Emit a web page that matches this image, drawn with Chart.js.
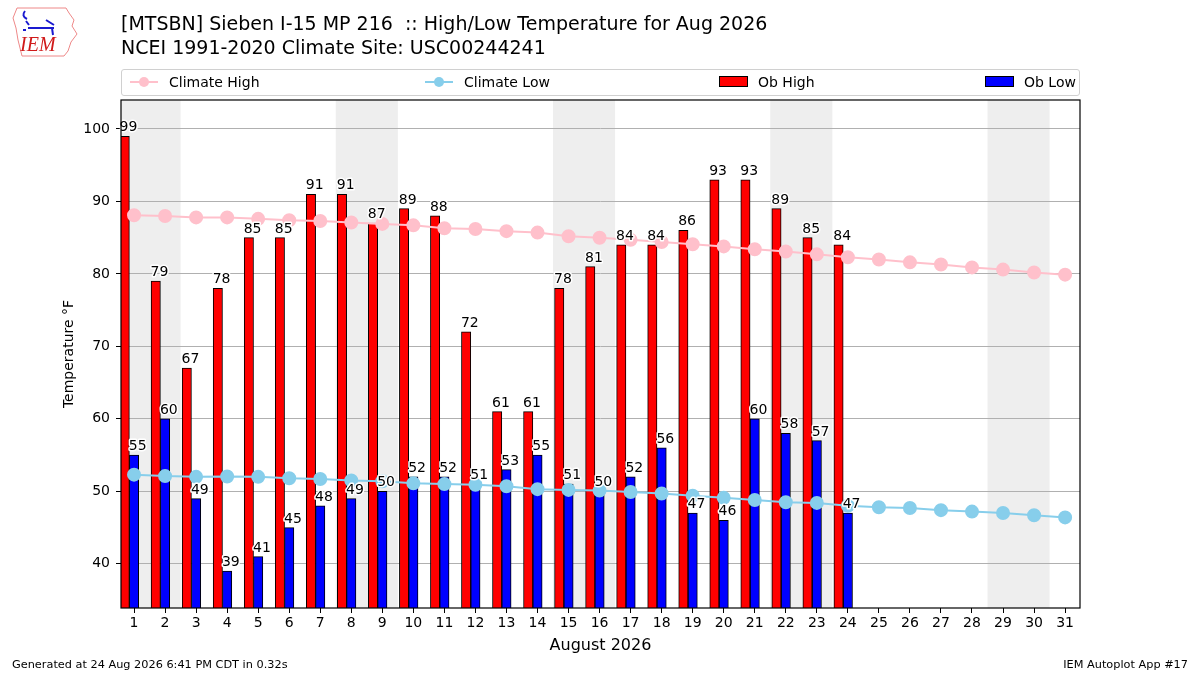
<!DOCTYPE html>
<html>
<head>
<meta charset="utf-8">
<script src="https://cdn.jsdelivr.net/npm/chart.js@4"></script>
<style>
  body { margin: 0; background: #fff; font-family: "DejaVu Sans", sans-serif; }
  #wrap { position: relative; width: 1200px; height: 675px; overflow: hidden; }
  #chart { position: absolute; left: 0; top: 0; }
  .t { position: absolute; white-space: nowrap; color: #000; }
  #legend { position: absolute; left: 121px; top: 69px; width: 957px; height: 25px;
            border: 1px solid #d0d0d0; border-radius: 3px; }
  .li { position: absolute; top: -1px; height: 25px; display: flex; align-items: center; font-size: 14px; }
</style>
</head>
<body>
<div id="wrap">
  <canvas id="chart" width="1200" height="675"></canvas>
  <svg style="position:absolute;left:8px;top:4px" width="74" height="56" viewBox="0 0 74 56">
    <path d="M9 4 L58 4 L61 9 L66 16 L64 22 L69 30 L63 38 L60 47 L56 52 L14 52 L12 44 L10 36 L8 24 L5 14 Z"
          fill="none" stroke="#e88" stroke-width="1"/>
    <path d="M17 7 Q13 12 19 15 M18 17 L21 21 M20 24 L46 24 M38 16 L46 21 M44 24 L45 31 M15 26 L18 26"
          fill="none" stroke="#1a1ad0" stroke-width="2"/>
    <text x="12" y="47" font-family="Liberation Serif, serif" font-style="italic" font-size="20" fill="#d01a1a">IEM</text>
  </svg>
  <div class="t" style="left:121px;top:12px;font-size:19px">[MTSBN] Sieben I-15 MP 216&nbsp; :: High/Low Temperature for Aug 2026</div>
  <div class="t" style="left:121px;top:36px;font-size:19px">NCEI 1991-2020 Climate Site: USC00244241</div>
  <div id="legend"></div>
  <div class="t" style="left:12px;top:658px;font-size:11.3px">Generated at 24 Aug 2026 6:41 PM CDT in 0.32s</div>
  <div class="t" style="right:12px;top:658px;font-size:11.3px">IEM Autoplot App #17</div>
</div>
<script>
const days = Array.from({ length: 31 }, (_, i) => i + 1);
const obDays = days.slice(0, 24);

const climateHigh = [88.1, 88.0, 87.8, 87.8, 87.6, 87.4, 87.3, 87.1, 86.9, 86.7, 86.3, 86.2, 85.9, 85.7, 85.2, 85.0,
  84.7, 84.4, 84.1, 83.8, 83.4, 83.1, 82.7, 82.3, 82.0, 81.6, 81.3, 80.9, 80.6, 80.2, 79.9];
const climateLow = [52.3, 52.1, 52.0, 52.05, 52.0, 51.8, 51.7, 51.5, 51.4, 51.1, 51.0, 50.9, 50.7, 50.3, 50.2, 50.1,
  49.9, 49.7, 49.4, 49.1, 48.8, 48.5, 48.4, 48.0, 47.8, 47.7, 47.4, 47.2, 47.0, 46.7, 46.4];
const obHigh = [99, 79, 67, 78, 85, 85, 91, 91, 87, 89, 88, 72, 61, 61, 78, 81, 84, 84, 86, 93, 93, 89, 85, 84];
const obLow = [55, 60, 49, 39, 41, 45, 48, 49, 50, 52, 52, 51, 53, 55, 51, 50, 52, 56, 47, 46, 60, 58, 57, 47];

const weekendStarts = [1, 8, 15, 22, 29];
const yTicks = [40, 50, 60, 70, 80, 90, 100];

// high bar sits just left of the day, low bar on the day
const highShift = -0.3;
const labelShift = 0.12;

const legendItems = [
  { label: 'Climate High', color: '#ffc0cb', kind: 'line', left: 8 },
  { label: 'Climate Low', color: '#87ceeb', kind: 'line', left: 303 },
  { label: 'Ob High', color: '#ff0000', kind: 'box', left: 597 },
  { label: 'Ob Low', color: '#0000ff', kind: 'box', left: 863 },
];

document.getElementById('legend').innerHTML = legendItems.map(it => {
  const mark = it.kind === 'line'
    ? `<svg width="28" height="12" style="margin-right:11px"><line x1="0" y1="6" x2="28" y2="6" stroke="${it.color}" stroke-width="2"/><circle cx="14" cy="6" r="5" fill="${it.color}"/></svg>`
    : `<span style="display:inline-block;width:27px;height:9px;background:${it.color};border:1px solid #000;margin-right:10px"></span>`;
  return `<div class="li" style="left:${it.left}px">${mark}${it.label}</div>`;
}).join('');

const shading = {
  id: 'shading',
  beforeDraw(c) {
    const { ctx, chartArea: a, scales: { x } } = c;
    ctx.save();
    ctx.beginPath();
    ctx.rect(a.left, a.top, a.right - a.left, a.bottom - a.top);
    ctx.clip();
    ctx.fillStyle = '#eeeeee';
    weekendStarts.forEach(d => {
      const x0 = x.getPixelForValue(d - 0.5);
      const x1 = x.getPixelForValue(d + 1.5);
      ctx.fillRect(x0, a.top, x1 - x0, a.bottom - a.top);
    });
    ctx.restore();
  },
  afterDatasetsDraw(c) {
    const { ctx, scales: { x } } = c;
    const dx = x.getPixelForValue(1 + labelShift) - x.getPixelForValue(1);
    ctx.save();
    ctx.font = '14px "DejaVu Sans"';
    ctx.textAlign = 'center';
    ctx.textBaseline = 'alphabetic';
    ctx.lineJoin = 'round';
    c.data.datasets.forEach((ds, i) => {
      if (ds.type !== 'bar') return;
      c.getDatasetMeta(i).data.forEach((el, j) => {
        const txt = String(ds.data[j].y);
        ctx.strokeStyle = '#fff';
        ctx.lineWidth = 3;
        ctx.strokeText(txt, el.x + dx, el.y - 5);
        ctx.fillStyle = '#000';
        ctx.fillText(txt, el.x + dx, el.y - 5);
      });
    });
    ctx.restore();
  },
  afterDraw(c) {
    const { ctx, chartArea: a } = c;
    ctx.save();
    ctx.strokeStyle = '#000';
    ctx.lineWidth = 1.2;
    ctx.strokeRect(a.left, a.top, a.right - a.left, a.bottom - a.top);
    ctx.restore();
  }
};

new Chart(document.getElementById('chart'), {
  data: {
    datasets: [
      { type: 'line', label: 'Climate High', data: days.map((d, i) => ({ x: d, y: climateHigh[i] })),
        borderColor: '#ffc0cb', backgroundColor: '#ffc0cb', borderWidth: 2, pointRadius: 6, pointHoverRadius: 6 },
      { type: 'line', label: 'Climate Low', data: days.map((d, i) => ({ x: d, y: climateLow[i] })),
        borderColor: '#87ceeb', backgroundColor: '#87ceeb', borderWidth: 2, pointRadius: 6, pointHoverRadius: 6 },
      { type: 'bar', label: 'Ob High', data: obDays.map((d, i) => ({ x: d + highShift, y: obHigh[i] })),
        backgroundColor: '#ff0000', borderColor: '#000', borderWidth: 1, borderSkipped: false,
        grouped: false, categoryPercentage: 1, barPercentage: 1 },
      { type: 'bar', label: 'Ob Low', data: obDays.map((d, i) => ({ x: d, y: obLow[i] })),
        backgroundColor: '#0000ff', borderColor: '#000', borderWidth: 1, borderSkipped: false,
        grouped: false, categoryPercentage: 1, barPercentage: 1 },
    ]
  },
  options: {
    responsive: false,
    animation: false,
    layout: { padding: { left: 55, top: 100, right: 120, bottom: 17 } },
    plugins: { legend: { display: false }, tooltip: { enabled: false } },
    scales: {
      x: {
        type: 'linear', min: 0.58, max: 31.48, offset: false,
        afterBuildTicks: s => { s.ticks = days.map(v => ({ value: v })); },
        afterFit: s => { s.height = 50; },
        grid: { drawOnChartArea: false, offset: false, color: '#000', tickLength: 5 },
        border: { display: false },
        ticks: { color: '#000', font: { family: 'DejaVu Sans', size: 14 }, padding: 2, maxRotation: 0, autoSkip: false },
        title: { display: true, text: 'August 2026', color: '#000', font: { family: 'DejaVu Sans', size: 16 }, padding: { top: 0, bottom: 3 } }
      },
      y: {
        min: 33.9, max: 104,
        afterBuildTicks: s => { s.ticks = yTicks.map(v => ({ value: v })); },
        afterFit: s => { s.width = 66; },
        grid: { color: '#b0b0b0', tickColor: '#000', tickLength: 5 },
        border: { display: false },
        ticks: { color: '#000', font: { family: 'DejaVu Sans', size: 14 }, padding: 6 },
        title: { display: true, text: 'Temperature °F', color: '#000', font: { family: 'DejaVu Sans', size: 14 }, padding: { top: 6, bottom: 0 } }
      }
    }
  },
  plugins: [shading]
});
</script>
</body>
</html>
